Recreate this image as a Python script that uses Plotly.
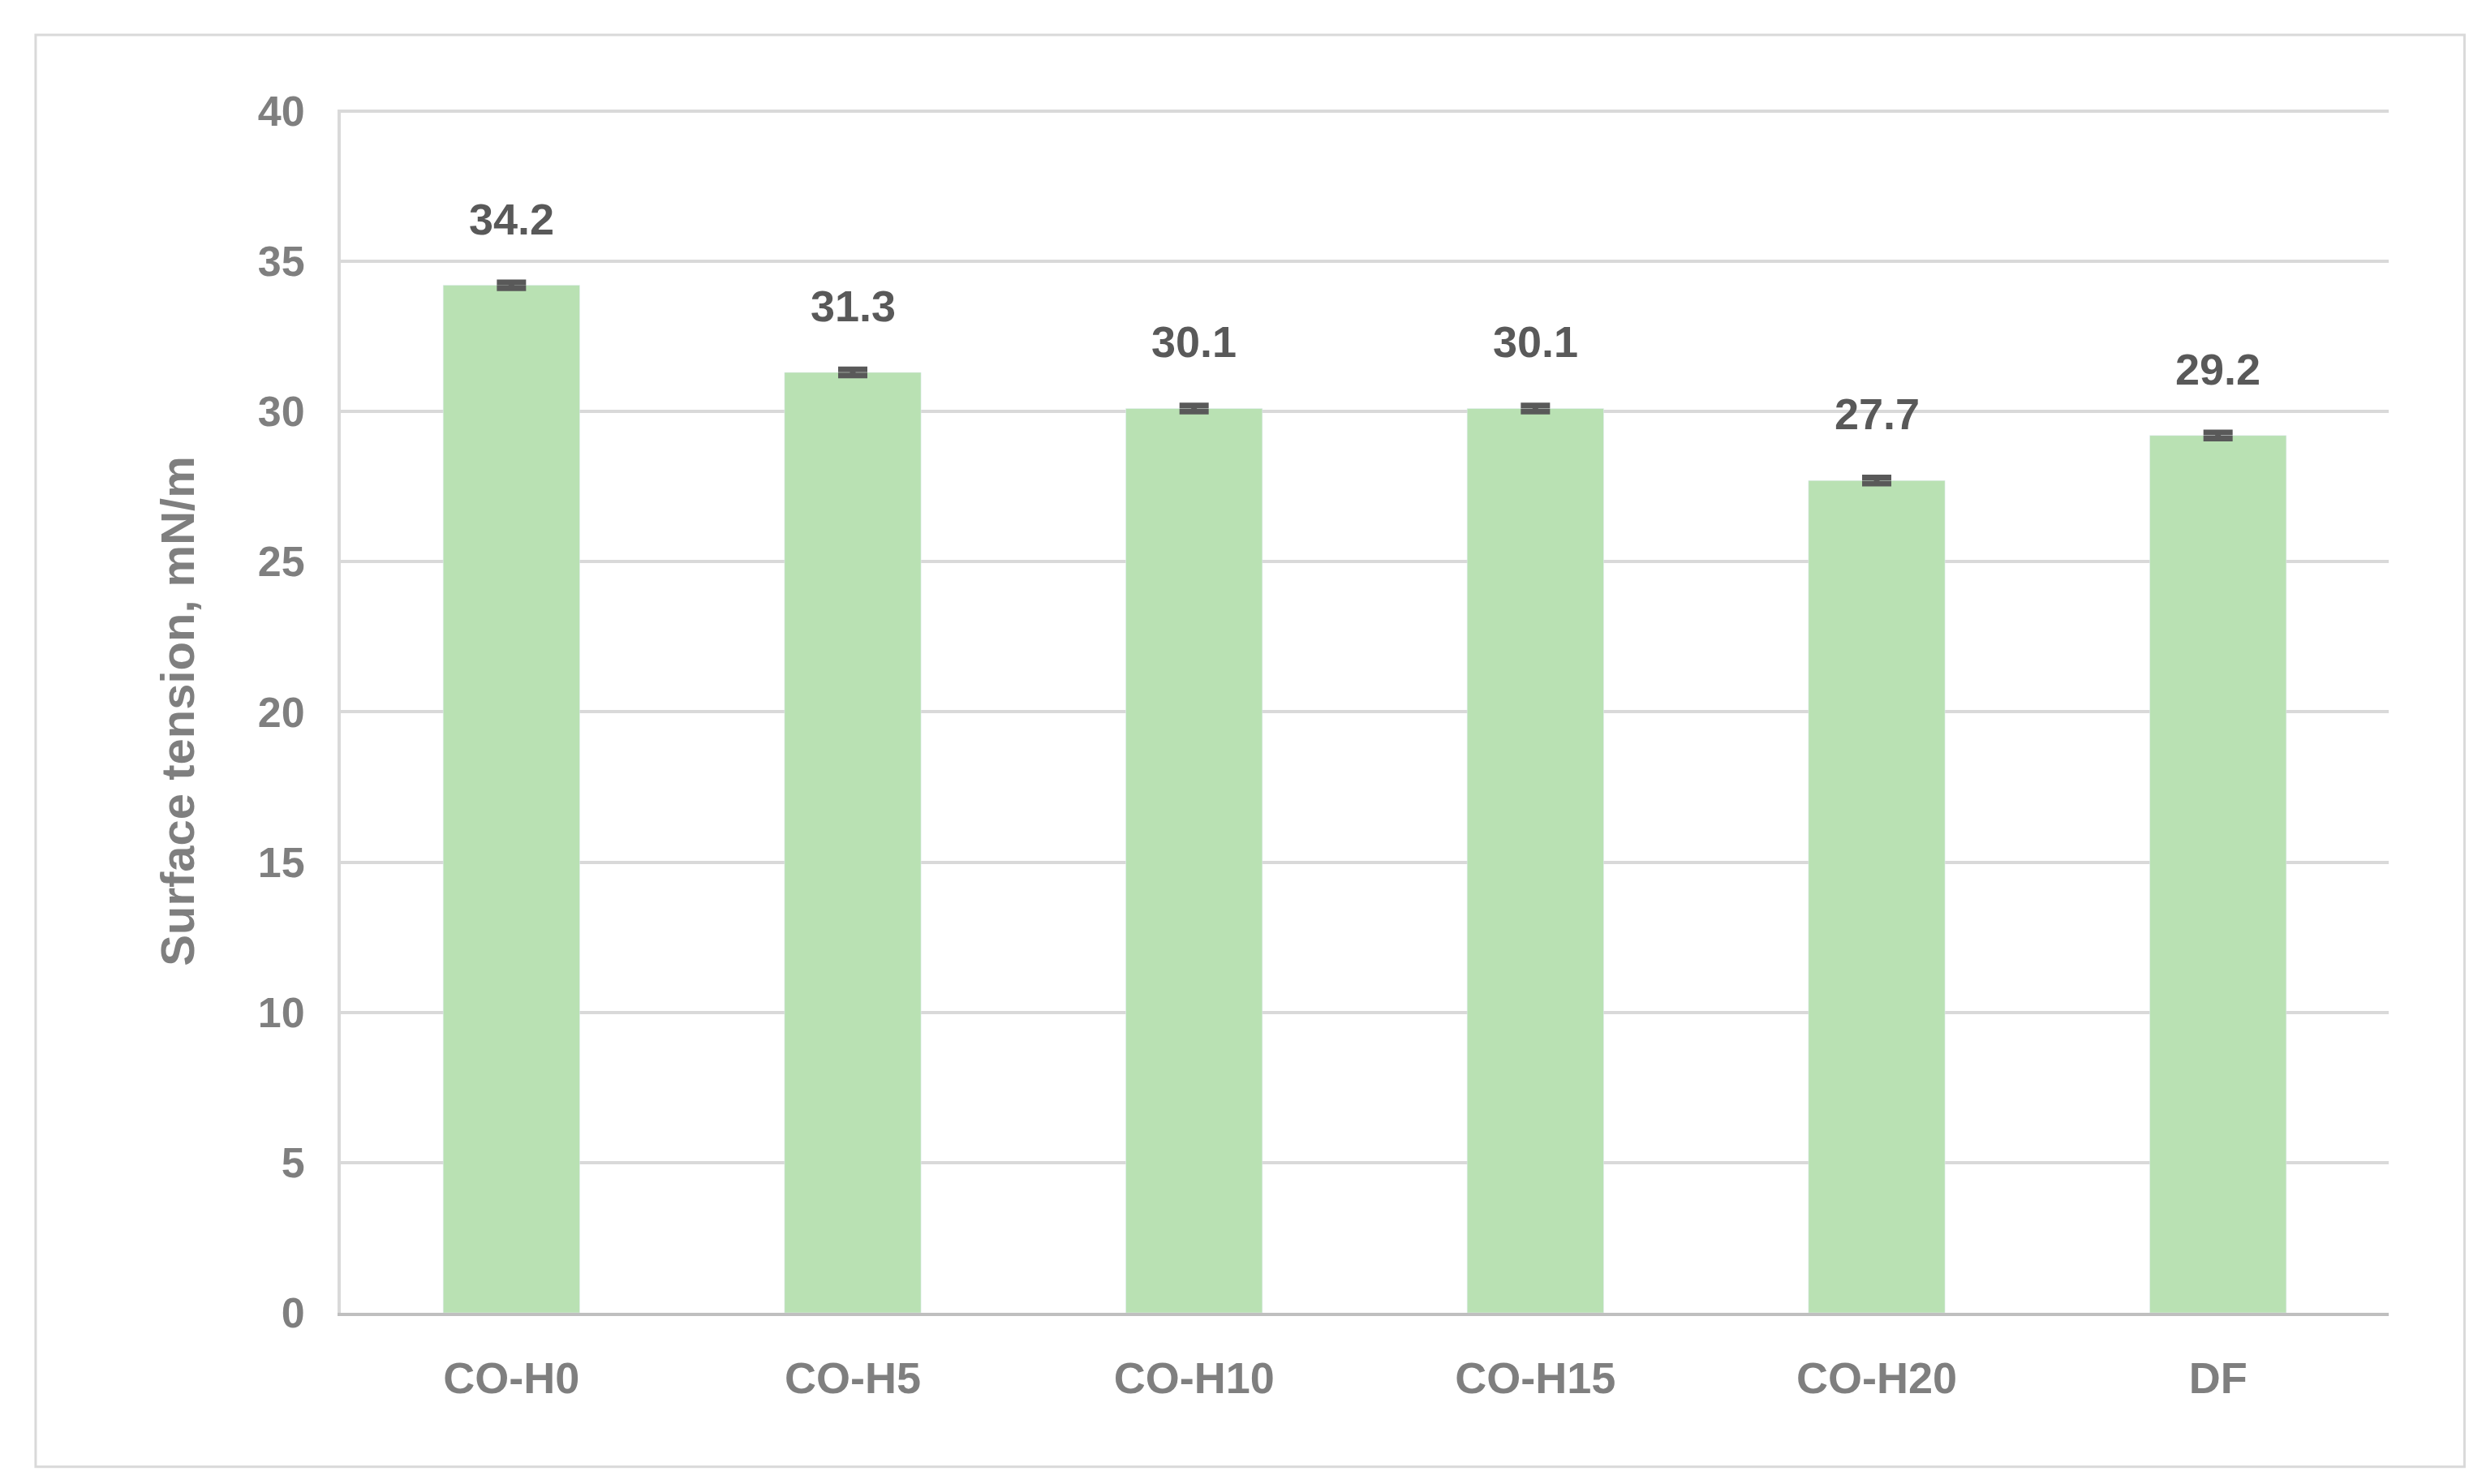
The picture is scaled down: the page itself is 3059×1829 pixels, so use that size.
import plotly.graph_objects as go

categories = ["CO-H0", "CO-H5", "CO-H10", "CO-H15", "CO-H20", "DF"]
values = [34.2, 31.3, 30.1, 30.1, 27.7, 29.2]
errors = [0.1, 0.1, 0.1, 0.1, 0.1, 0.1]
labels = ["34.2", "31.3", "30.1", "30.1", "27.7", "29.2"]

fnt = "Liberation Sans"
gray = "#7F7F7F"
fig = go.Figure(go.Bar(
    x=categories, y=values, width=0.4, marker_color="#B9E1B3",
    error_y=dict(type="data", array=errors, color="#595959", thickness=7, width=18),
))
for c, v, t in zip(categories, values, labels):
    fig.add_annotation(x=c, y=v, text="<b>%s</b>" % t, showarrow=False, yanchor="bottom",
                       yshift=50, font=dict(family=fnt, size=54, color="#595959"))
fig.update_layout(
    width=3059, height=1829, paper_bgcolor="white", plot_bgcolor="white",
    margin=dict(l=412, r=123, t=127, b=219), showlegend=False,
    shapes=[dict(type="rect", xref="paper", yref="paper", x0=-0.149, x1=1.037, y0=-0.128, y1=1.062,
                 line=dict(color="#D9D9D9", width=3))],
)
fig.update_xaxes(showline=True, linecolor="#BFBFBF", linewidth=4, ticks="",
                 tickfont=dict(family=fnt, size=54, color=gray, weight="bold"), ticklabelstandoff=30)
fig.update_yaxes(range=[0, 40.05], tickvals=[0, 5, 10, 15, 20, 25, 30, 35, 40], gridcolor="#D9D9D9", gridwidth=4, showline=True,
                 linecolor="#D9D9D9", linewidth=4, zeroline=False, ticks="",
                 tickfont=dict(family=fnt, size=52, color=gray, weight="bold"), ticklabelstandoff=30,
                 title=dict(text="<b>Surface tension, mN/m</b>", font=dict(family=fnt, size=58, color=gray), standoff=60))
fig.write_html("out.html")
